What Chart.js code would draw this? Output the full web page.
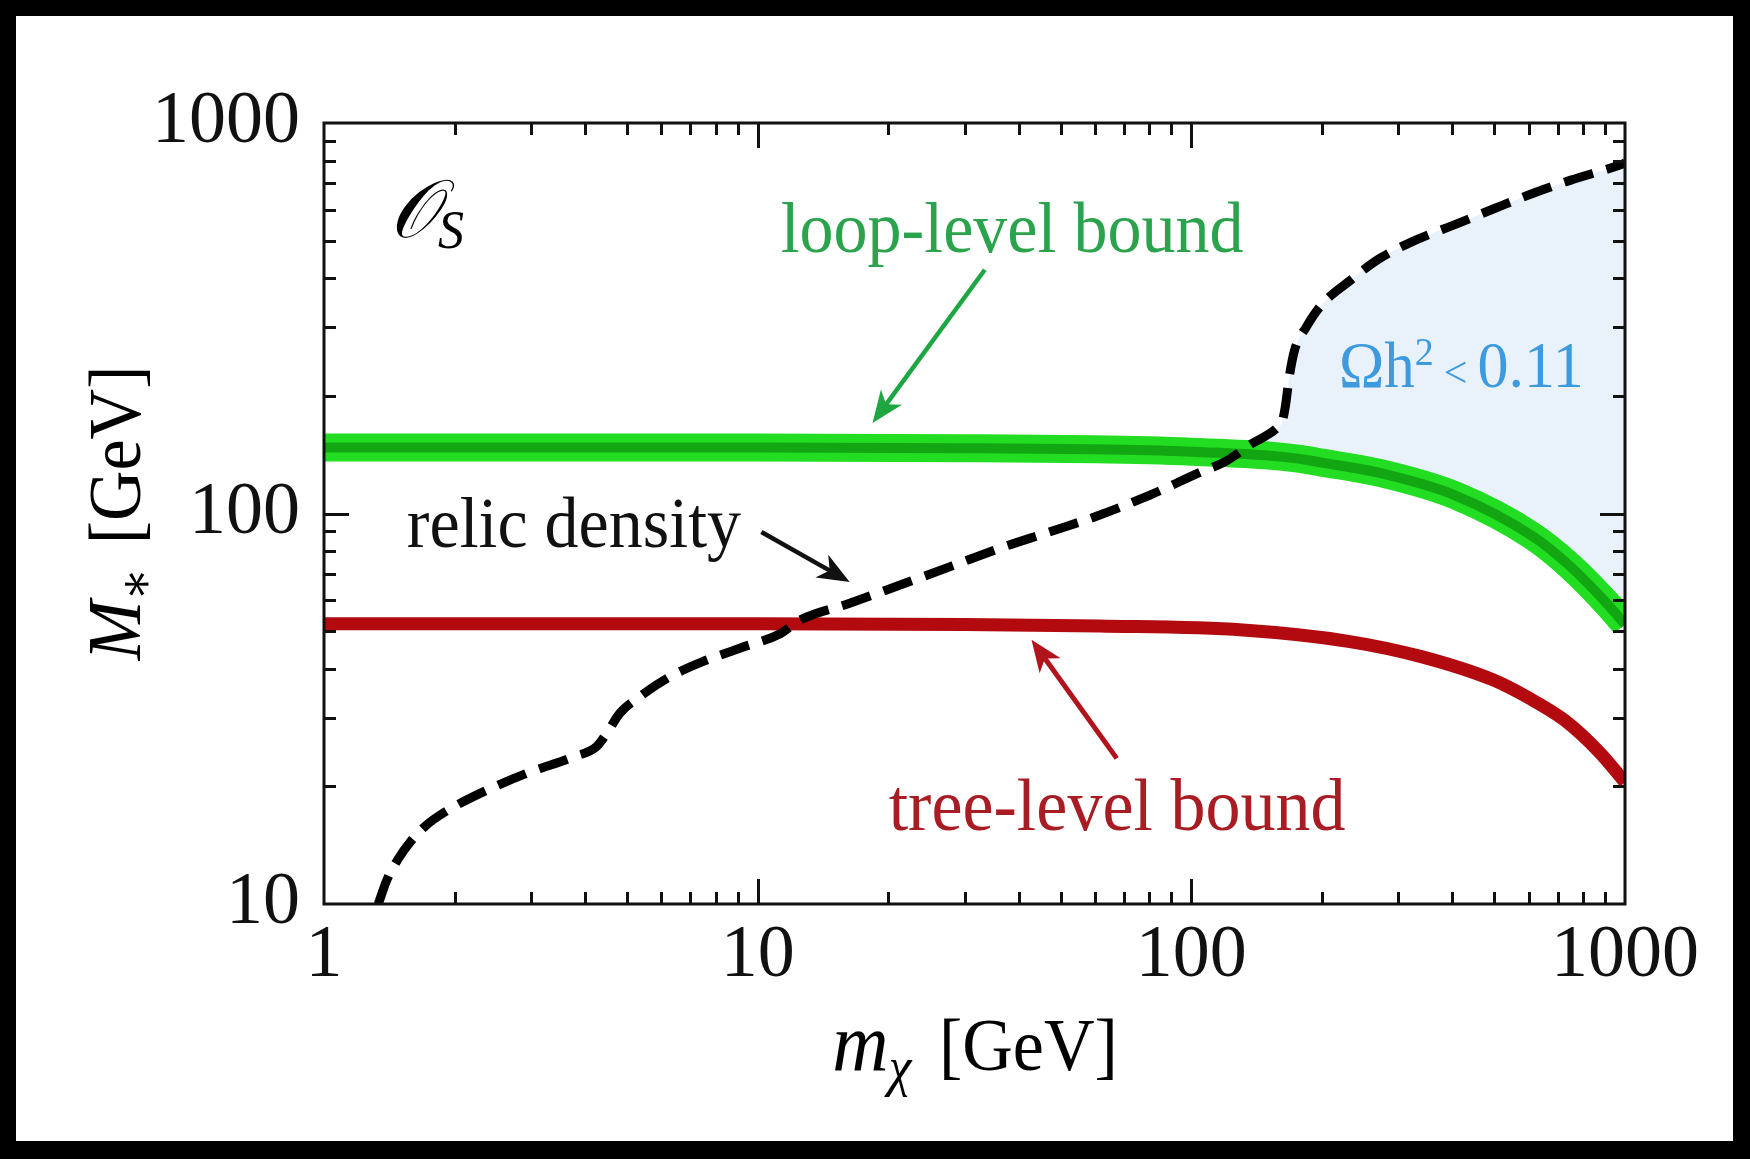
<!DOCTYPE html>
<html>
<head>
<meta charset="utf-8">
<script src="https://cdn.jsdelivr.net/npm/chart.js@4.4.1/dist/chart.umd.min.js"></script>
<style>
  html, body { margin: 0; padding: 0; background: #000; }
  #wrap { width: 1750px; height: 1159px; }
</style>
</head>
<body>
<div id="wrap"><canvas id="chart" width="1750" height="1159"></canvas></div>
<script>
/*=============== DATA ===============*/
const xTicks = [1, 10, 100, 1000]
const yTicks = [10, 100, 1000]

// relic density curve, dashed
const relicMass  = [1.334, 1.40, 1.48, 1.58, 1.72, 1.90, 2.29, 2.93, 3.76, 4.25, 4.49, 4.81, 5.35, 6.28, 7.49, 9.1, 11.3, 12.5, 16.3, 21.3, 27.8, 36.2, 47.2, 61.5, 80.3, 104, 120, 138, 157, 162, 165, 168, 173, 184, 200, 231, 272, 333, 408, 500, 612, 750, 977, 1000]
const relicScale = [10, 11.6, 13.0, 14.4, 15.9, 17.2, 19.2, 21.6, 23.8, 25.3, 27.4, 30.8, 34.0, 38.2, 41.8, 45.2, 49.3, 53.3, 58.9, 65.6, 73.1, 81.5, 89.8, 99.1, 111.5, 127, 136, 151, 165, 172, 190, 222, 262, 300, 343, 393, 450, 504, 551, 604, 660, 714, 782, 790]

// loop-level bound (green band)
const loopMass  = [1, 10, 30, 60, 100, 148, 178, 200, 272, 408, 612, 750, 923, 1000]
const loopScale = [147.5, 147.5, 147, 146, 144, 141, 138, 135, 127, 111, 87.5, 73, 57.7, 52]

// tree-level bound (red)
const treeMass  = [1, 10, 30, 61.5, 131.5, 232, 339, 496, 600, 724, 875, 1000]
const treeScale = [52.2, 52.2, 52, 51.5, 50.3, 47, 43, 37.5, 33.7, 29.6, 24.4, 20.5]

const toPoints = (xs, ys) => xs.map((x, i) => ({ x, y: ys[i] }))

/*=============== HELPERS ===============*/
const SERIF = '"Liberation Serif", "DejaVu Serif", serif'

// draws a row of text pieces (different fonts / offsets) as one label
const drawRuns = (ctx, runs, x0, y0, align, opts = {}) => {
  const stretch = opts.stretch || 1.07
  ctx.save()
  const widths = runs.map(r => {
    ctx.font = r.font
    return ctx.measureText(r.text).width + (r.gap || 0)
  })
  const total = widths.reduce((a, b) => a + b, 0)
  let cx = align === 'center' ? -total / 2 : align === 'right' ? -total : 0
  ctx.translate(x0, y0)
  if (opts.rotate) ctx.rotate(opts.rotate)
  ctx.scale(1, stretch)
  ctx.textAlign = 'left'
  ctx.textBaseline = 'alphabetic'
  runs.forEach((r, i) => {
    ctx.font = r.font
    ctx.fillStyle = r.color || opts.color || '#000'
    ctx.fillText(r.text, cx, r.dy || 0)
    cx += widths[i]
  })
  ctx.restore()
}

const drawArrow = (ctx, x0, y0, x1, y1, color, lw) => {
  const ang = Math.atan2(y1 - y0, x1 - x0)
  const c = Math.cos(ang), s = Math.sin(ang)
  const len = 32, half = 13
  ctx.save()
  ctx.strokeStyle = color
  ctx.fillStyle = color
  ctx.lineWidth = lw
  ctx.beginPath()
  ctx.moveTo(x0, y0)
  ctx.lineTo(x1 - c * len * 0.7, y1 - s * len * 0.7)
  ctx.stroke()
  const bx = x1 - c * len, by = y1 - s * len
  ctx.beginPath()
  ctx.moveTo(x1, y1)
  ctx.lineTo(bx - s * half, by + c * half)
  ctx.lineTo(x1 - c * len * 0.72, y1 - s * len * 0.72)
  ctx.lineTo(bx + s * half, by - c * half)
  ctx.closePath()
  ctx.fill()
  ctx.restore()
}

/*=============== PLUGINS ===============*/
// black photo border + white page
const page = {
  id: 'page',
  beforeDraw(chart) {
    const { ctx, width, height } = chart
    ctx.save()
    ctx.fillStyle = '#000'
    ctx.fillRect(0, 0, width, height)
    ctx.fillStyle = '#fff'
    ctx.fillRect(16, 16, width - 33, height - 34)
    ctx.restore()
  }
}

// frame with inward log ticks on all four sides
const frame = {
  id: 'frame',
  afterDatasetsDraw(chart) {
    const { ctx, chartArea: a, scales: { x, y } } = chart
    const major = 25, minor = 12
    ctx.save()
    ctx.strokeStyle = '#111'
    ctx.lineWidth = 3
    ctx.beginPath()
    for (let d = 1; d < 1000; d *= 10) {
      for (let k = 1; k <= 9; k++) {
        const v = k * d
        if (v <= 1) continue
        const p = Math.round(x.getPixelForValue(v)) + 0.5
        const L = k === 1 ? major : minor
        ctx.moveTo(p, a.bottom); ctx.lineTo(p, a.bottom - L)
        ctx.moveTo(p, a.top); ctx.lineTo(p, a.top + L)
      }
    }
    for (let d = 10; d < 1000; d *= 10) {
      for (let k = 1; k <= 9; k++) {
        const v = k * d
        if (v <= 10) continue
        const p = Math.round(y.getPixelForValue(v)) + 0.5
        const L = k === 1 ? major : minor
        ctx.moveTo(a.left, p); ctx.lineTo(a.left + L, p)
        ctx.moveTo(a.right, p); ctx.lineTo(a.right - L, p)
      }
    }
    ctx.stroke()
    ctx.strokeRect(a.left, a.top, a.right - a.left, a.bottom - a.top)
    ctx.restore()
  }
}

// labels, arrows and axis titles
const annotate = {
  id: 'annotate',
  afterDraw(chart) {
    const { ctx, scales: { x, y } } = chart
    const px = v => x.getPixelForValue(v)
    const py = v => y.getPixelForValue(v)

    // operator label
    drawRuns(ctx, [
      { text: '\u{1D4AA}', font: `italic 76px ${SERIF}` },
      { text: 'S', font: `italic 52px ${SERIF}`, dy: 10 }
    ], px(1.42), py(511), 'left')

    drawRuns(ctx, [{ text: 'loop-level bound', font: `68px ${SERIF}` }],
      px(38.6), py(468), 'center', { color: '#2ba24c' })
    drawRuns(ctx, [{ text: 'relic density', font: `68px ${SERIF}` }],
      px(3.77), py(82), 'center', { color: '#111' })
    drawRuns(ctx, [{ text: 'tree-level bound', font: `70px ${SERIF}` }],
      px(67.4), py(15.5), 'center', { color: '#a81c24' })
    drawRuns(ctx, [
      { text: '\u03A9h', font: `61px ${SERIF}` },
      { text: '2', font: `38px ${SERIF}`, dy: -20, gap: 10 },
      { text: '<', font: `42px ${SERIF}`, gap: 10 },
      { text: '0.11', font: `62px ${SERIF}` }
    ], px(219), py(211), 'left', { color: '#3d9ade' })

    drawArrow(ctx, px(33.4), py(421), px(18.4), py(170.6), '#1ea642', 4.5)
    drawArrow(ctx, px(10.2), py(89.7), px(16.3), py(66.8), '#111', 4.5)
    drawArrow(ctx, px(67.3), py(23.6), px(42.8), py(47.5), '#b0141c', 5)

    // axis titles
    drawRuns(ctx, [
      { text: 'm', font: `italic 78px ${SERIF}` },
      { text: '\u03C7', font: `italic 52px ${SERIF}`, dy: 14, gap: 10 },
      { text: ' [GeV]', font: `70px ${SERIF}` }
    ], 975, 1070, 'center')
    drawRuns(ctx, [
      { text: 'M', font: `italic 72px ${SERIF}` },
      { text: '\u2217', font: `48px ${SERIF}`, dy: 12, gap: 6 },
      { text: ' [GeV]', font: `70px ${SERIF}` }
    ], 140, 513, 'center', { rotate: -Math.PI / 2 })
  }
}

/*=============== CHART ===============*/
const tickFont = { family: SERIF, size: 74 }

new Chart(document.getElementById('chart'), {
  type: 'line',
  data: {
    datasets: [
      {
        label: 'relic density',
        data: toPoints(relicMass, relicScale),
        borderColor: '#000',
        borderWidth: 9,
        borderDash: [30, 14],
        cubicInterpolationMode: 'monotone',
        fill: { target: 2, above: '#e9f2fb', below: 'rgba(0,0,0,0)' },
        clip: 0,
        order: 0
      },
      {
        label: 'tree-level bound',
        data: toPoints(treeMass, treeScale),
        borderColor: '#b30a0f',
        borderWidth: 13,
        cubicInterpolationMode: 'monotone',
        clip: 0,
        order: 1
      },
      {
        label: 'loop-level band',
        data: toPoints(loopMass, loopScale),
        borderColor: '#22dd22',
        borderWidth: 28,
        cubicInterpolationMode: 'monotone',
        clip: 0,
        order: 3
      },
      {
        label: 'loop-level bound',
        data: toPoints(loopMass, loopScale),
        borderColor: '#12a712',
        borderWidth: 10,
        cubicInterpolationMode: 'monotone',
        clip: 0,
        order: 2
      }
    ]
  },
  options: {
    responsive: false,
    animation: false,
    devicePixelRatio: 1,
    layout: { padding: { top: 123, right: 125, left: 0, bottom: 0 } },
    elements: { point: { radius: 0 } },
    plugins: {
      legend: { display: false },
      tooltip: { enabled: false },
      filler: { drawTime: 'beforeDatasetsDraw' }
    },
    scales: {
      x: {
        type: 'logarithmic',
        min: 1,
        max: 1000,
        grid: { display: false, drawTicks: false },
        border: { display: false },
        ticks: { font: tickFont, color: '#111', padding: 8, maxRotation: 0, autoSkip: false,
                 callback: v => String(v) },
        afterBuildTicks: s => { s.ticks = xTicks.map(v => ({ value: v })) },
        afterFit: s => { s.height = 255 }
      },
      y: {
        type: 'logarithmic',
        min: 10,
        max: 1000,
        grid: { display: false, drawTicks: false },
        border: { display: false },
        ticks: { font: tickFont, color: '#111', padding: 24, autoSkip: false,
                 callback: v => String(v) },
        afterBuildTicks: s => { s.ticks = yTicks.map(v => ({ value: v })) },
        afterFit: s => { s.width = 324 }
      }
    }
  },
  plugins: [page, frame, annotate]
})
</script>
</body>
</html>
